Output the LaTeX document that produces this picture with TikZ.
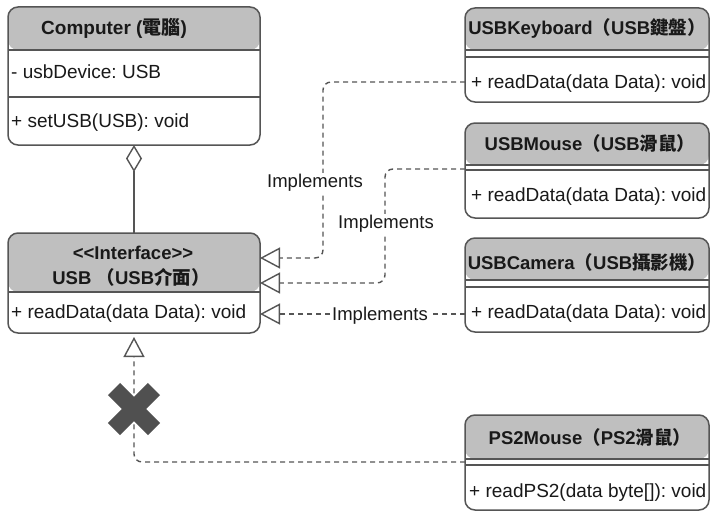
\documentclass[tikz,border=0pt]{standalone}
\usepackage{fontspec}
\setmainfont{Liberation Sans}
\newfontfamily\cjk{Noto Sans CJK TC}
\usetikzlibrary{arrows.meta}
\definecolor{hdrgray}{RGB}{191,191,191}
\definecolor{linegray}{RGB}{85,85,85}
\definecolor{txtgray}{RGB}{25,25,25}
\definecolor{crossgray}{RGB}{80,80,80}
\frenchspacing

\begin{document}
\begin{tikzpicture}[x=1pt, y=-1pt,
    clsbox/.style={draw=linegray, line width=1.5pt, rounded corners=10pt, fill=white,
      inner sep=0pt, outer sep=0pt, anchor=north west,
      path picture={\fill[hdrgray] (path picture bounding box.north west)
        rectangle ([yshift=-#1]path picture bounding box.north east);}},
    clsline/.style={draw=linegray, line width=1.5pt},
    hdrtext/.style={text=txtgray, font=\fontsize{18.5}{22}\selectfont\bfseries, inner sep=0pt},
    member/.style={text=txtgray, font=\fontsize{19}{22}\selectfont, anchor=west, inner sep=0pt},
    implabel/.style={text=txtgray, font=\fontsize{18.5}{22}\selectfont, fill=white, inner sep=1pt},
    impl/.style={draw=linegray, line width=1.4pt, dash pattern=on 5pt off 4pt, rounded corners=8pt,
      -{Triangle[open, length=20pt, width=21pt, line width=1.4pt]}},
    aggr/.style={draw=linegray, line width=1.4pt,
      {Diamond[open, length=27pt, width=16pt, line width=1.4pt]}-},
    crossmark/.style={draw=crossgray, line width=17pt}]
    \useasboundingbox (0,0) rectangle (712,511);

    % class frames
    \node[clsbox=43pt, minimum width=252pt, minimum height=138pt] (computer) at (8,7) {};
    \node[clsbox=59pt, minimum width=252pt, minimum height=100pt] (usb) at (8,233) {};
    \node[clsbox=42pt, minimum width=244pt, minimum height=94pt] (keyboard) at (465,8) {};
    \node[clsbox=42pt, minimum width=244pt, minimum height=95pt] (mouse) at (465,123) {};
    \node[clsbox=42pt, minimum width=244pt, minimum height=94pt] (camera) at (465,238) {};
    \node[clsbox=44pt, minimum width=244pt, minimum height=95pt] (ps2mouse) at (465,415) {};

    % compartments
    \draw[clsline] ([yshift=-43pt]computer.north west) -- ([yshift=-43pt]computer.north east);
    \draw[clsline] ([yshift=-90pt]computer.north west) -- ([yshift=-90pt]computer.north east);
    \draw[clsline] ([yshift=-59pt]usb.north west) -- ([yshift=-59pt]usb.north east);
    \draw[clsline] ([yshift=-42pt]keyboard.north west) -- ([yshift=-42pt]keyboard.north east);
    \draw[clsline] ([yshift=-49pt]keyboard.north west) -- ([yshift=-49pt]keyboard.north east);
    \draw[clsline] ([yshift=-42pt]mouse.north west) -- ([yshift=-42pt]mouse.north east);
    \draw[clsline] ([yshift=-47pt]mouse.north west) -- ([yshift=-47pt]mouse.north east);
    \draw[clsline] ([yshift=-42pt]camera.north west) -- ([yshift=-42pt]camera.north east);
    \draw[clsline] ([yshift=-49pt]camera.north west) -- ([yshift=-49pt]camera.north east);
    \draw[clsline] ([yshift=-44pt]ps2mouse.north west) -- ([yshift=-44pt]ps2mouse.north east);
    \draw[clsline] ([yshift=-50pt]ps2mouse.north west) -- ([yshift=-50pt]ps2mouse.north east);

    % texts
    \node[hdrtext, font=\fontsize{19}{22}\selectfont\bfseries] (comptitle) at (114,28) {Computer ({\cjk 電腦})};
    \node[member] (compattr) at (11,72) {- usbDevice: USB};
    \node[member] (compop) at (11,123) {+ setUSB(USB): void};
    \node[hdrtext] (usbstereo) at (133,253) {<\kern0pt<Interface>\kern0pt>};
    \node[hdrtext] (usbtitle) at (131,277) {USB {\cjk （}USB{\cjk 介面）}};
    \node[member] (usbop) at (11,314) {+ readData(data Data): void};
    \node[hdrtext] (kbtitle) at (587,28) {USBKeyboard{\cjk （}USB{\cjk 鍵盤）}};
    \node[member] (kbop) at (471,84) {+ readData(data Data): void};
    \node[hdrtext] (mousetitle) at (590,143) {USBMouse{\cjk （}USB{\cjk 滑鼠）}};
    \node[member] (mouseop) at (471,197) {+ readData(data Data): void};
    \node[hdrtext] (camtitle) at (587,262) {USBCamera{\cjk （}USB{\cjk 攝影機）}};
    \node[member] (camop) at (471,314) {+ readData(data Data): void};
    \node[hdrtext] (ps2title) at (590,437) {PS2Mouse{\cjk （}PS2{\cjk 滑鼠）}};
    \node[member] (ps2op) at (469,493) {+ readPS2(data byte[]): void};

    % relations
    \draw[aggr] (computer.south) -- (usb.north);
    \draw[impl] ([yshift=-74pt]keyboard.north west) -- ++(-142,0) |- ([yshift=-25pt]usb.north east);
    \draw[impl] ([yshift=-46pt]mouse.north west) -- ++(-80,0) |- ([yshift=-50pt]usb.north east);
    \draw[impl] ([yshift=-76pt]camera.north west) -- ([yshift=-81pt]usb.north east);
    \draw[impl] ([yshift=-47pt]ps2mouse.north west) -| ([yshift=-4pt]usb.south);

    \node[implabel] (impl1) at (315,183) {Implements};
    \node[implabel] (impl2) at (386,224) {Implements};
    \node[implabel] (impl3) at (380,316) {Implements};

    % not allowed
    \coordinate (ban) at (134,409);
    \draw[crossmark] ([shift={(-20,-20)}]ban) -- ([shift={(20,20)}]ban);
    \draw[crossmark] ([shift={(-20,20)}]ban) -- ([shift={(20,-20)}]ban);
\end{tikzpicture}
\end{document}
